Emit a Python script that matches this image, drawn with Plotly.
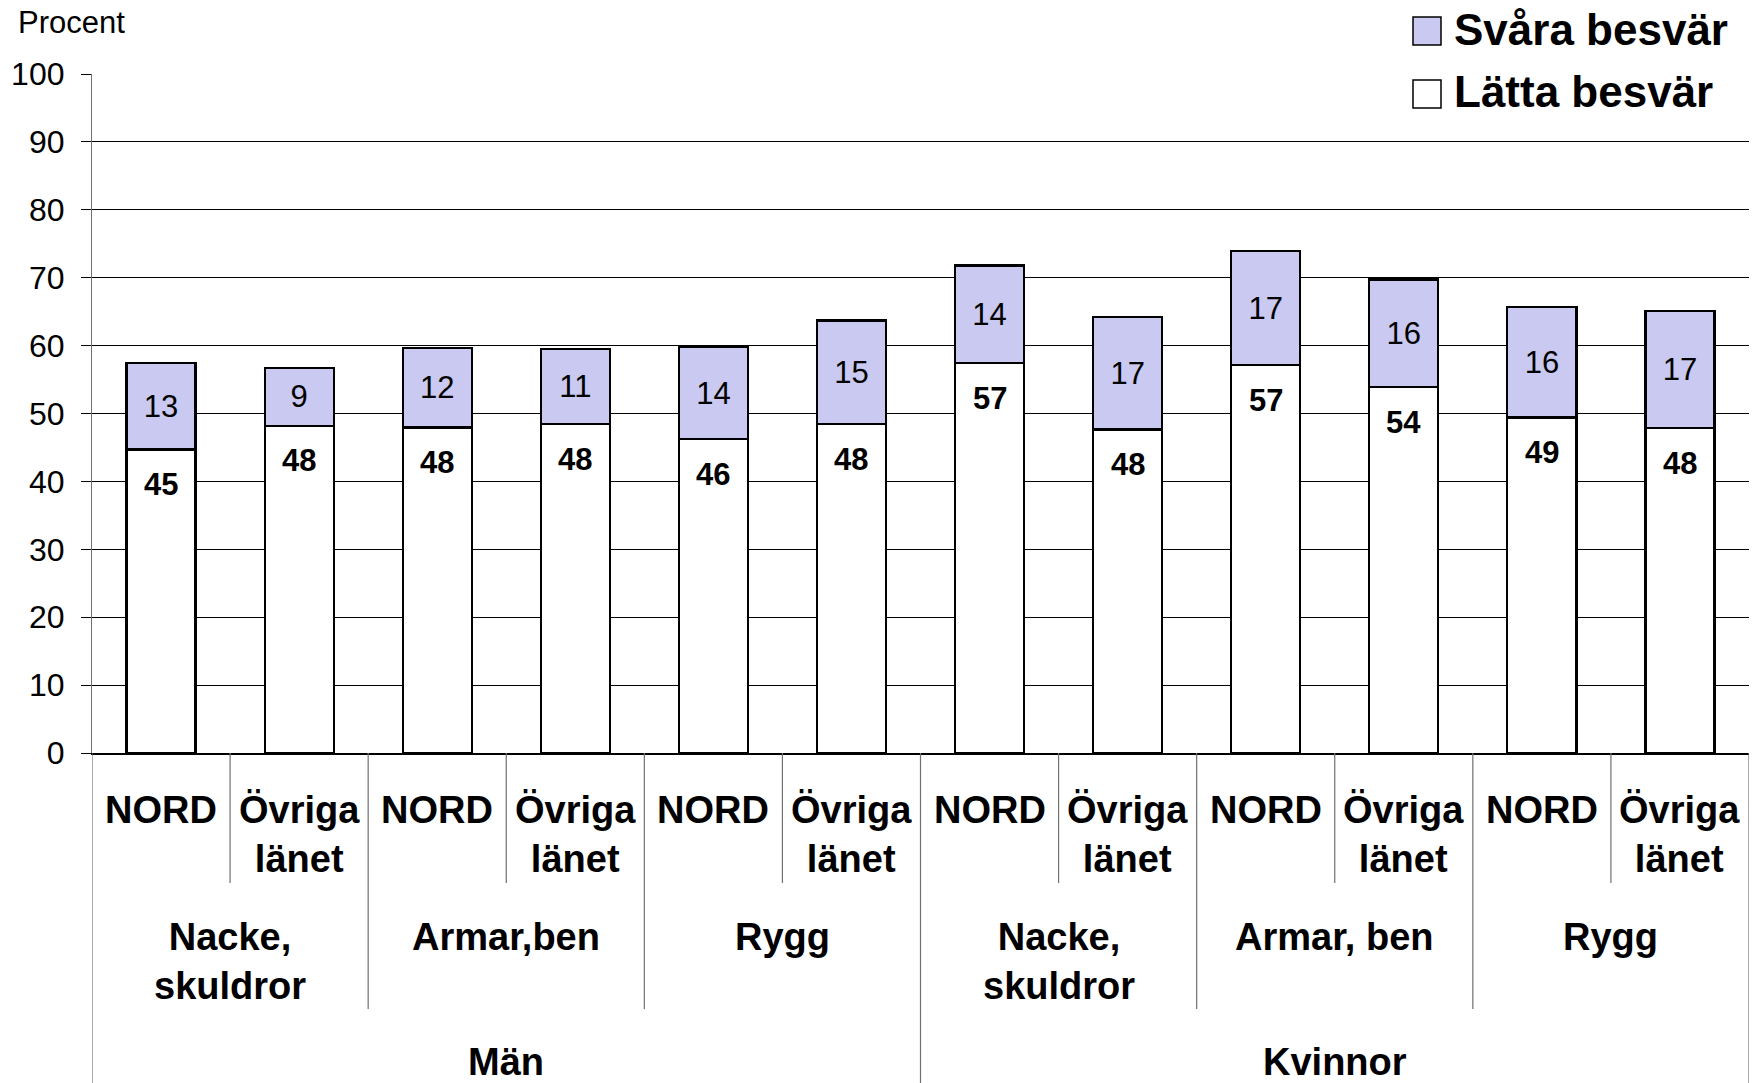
import plotly.graph_objects as go

# ---------------- data ----------------
region_labels = ["NORD", "Övriga<br>länet"] * 6
body_parts = ["Nacke,<br>skuldror", "Armar,ben", "Rygg",
              "Nacke,<br>skuldror", "Armar, ben", "Rygg"]
genders = ["Män", "Kvinnor"]

latta = [44.7, 48.2, 47.95, 48.4, 46.2, 48.4, 57.4, 47.65, 57.1, 53.9, 49.4, 47.85]
svara = [12.7, 8.5, 11.7, 11.1, 13.6, 15.3, 14.4, 16.6, 16.8, 15.85, 16.3, 17.3]
latta_labels = ["45", "48", "48", "48", "46", "48", "57", "48", "57", "54", "49", "48"]
svara_labels = ["13", "9", "12", "11", "14", "15", "14", "17", "17", "16", "16", "17"]

series_names = ["Lätta besvär", "Svåra besvär"]
y_ticks = [0, 10, 20, 30, 40, 50, 60, 70, 80, 90, 100]
y_title = "Procent"

# ---------------- styling ----------------
FONT = "Liberation Sans, Arial, sans-serif"
LAV = "#C9C9F1"
W, H = 1758, 1083
ML, MR, MT, MB = 92, 9, 74, 330
PW, PH = W - ML - MR, H - MT - MB


def px2x(p):
    return (p - ML) / PW


def py(p):
    return (H - MB - p) / PH


x = list(range(len(latta)))

fig = go.Figure()
fig.add_trace(go.Bar(
    x=x, y=latta, name=series_names[0],
    marker=dict(color="white", line=dict(color="black", width=2.2)),
    showlegend=False, hoverinfo="skip",
))
fig.add_trace(go.Bar(
    x=x, y=svara, name=series_names[1],
    marker=dict(color=LAV, line=dict(color="black", width=2.2)),
    text=svara_labels, textposition="inside", insidetextanchor="middle",
    textangle=0, constraintext="none",
    textfont=dict(family=FONT, size=31, color="black"),
    showlegend=False, hoverinfo="skip",
))

annotations = []
# Lätta labels (bold, just below the boundary)
for i, (v, t) in enumerate(zip(latta, latta_labels)):
    annotations.append(dict(x=i, y=v, xref="x", yref="y", text=t, showarrow=False,
                            yanchor="middle", yshift=-35,
                            font=dict(family=FONT, size=31, color="black", weight="bold")))

# level-1 labels
for i, t in enumerate(region_labels):
    annotations.append(dict(x=i, y=py(787), xref="x", yref="paper", text=t, showarrow=False,
                            yanchor="top", xanchor="center",
                            font=dict(family=FONT, size=38, color="black", weight="bold")))
# level-2 labels
for j, t in enumerate(body_parts):
    annotations.append(dict(x=2 * j + 0.5, y=py(914), xref="x", yref="paper", text=t,
                            showarrow=False, yanchor="top", xanchor="center",
                            font=dict(family=FONT, size=38, color="black", weight="bold")))
# level-3 labels
for k, t in enumerate(genders):
    annotations.append(dict(x=6 * k + 2.5, y=py(1062), xref="x", yref="paper", text=t,
                            showarrow=False, yanchor="middle", xanchor="center",
                            font=dict(family=FONT, size=38, color="black", weight="bold")))

# y title
annotations.append(dict(x=px2x(16), y=py(22), xref="paper", yref="paper", text=y_title,
                        showarrow=False, xanchor="left", yanchor="middle",
                        font=dict(family=FONT, size=31, color="black")))

# legend texts
annotations.append(dict(x=px2x(1452), y=py(29), xref="paper", yref="paper",
                        text=series_names[1], showarrow=False, xanchor="left", yanchor="middle",
                        font=dict(family=FONT, size=44, color="black", weight="bold")))
annotations.append(dict(x=px2x(1452), y=py(91), xref="paper", yref="paper",
                        text=series_names[0], showarrow=False, xanchor="left", yanchor="middle",
                        font=dict(family=FONT, size=44, color="black", weight="bold")))

shapes = []
SEP = dict(color="#707070", width=1.2)
n = len(latta)
for b in range(n + 1):
    xb = b - 0.5
    if b in (0, n, n // 2):
        y1 = py(H)
    elif b % 2 == 1:
        y1 = py(883)
    else:
        y1 = py(1009)
    shapes.append(dict(type="line", xref="x", yref="paper", x0=xb, x1=xb, y0=0, y1=y1,
                       line=SEP, layer="above"))

# legend box (white, covers gridline)
shapes.append(dict(type="rect", xref="paper", yref="paper",
                   x0=px2x(1397), x1=px2x(1743), y0=py(122), y1=py(0),
                   fillcolor="white", line=dict(width=0), layer="above"))
shapes.append(dict(type="rect", xref="paper", yref="paper",
                   x0=px2x(1413), x1=px2x(1441), y0=py(45), y1=py(17),
                   fillcolor=LAV, line=dict(color="black", width=1.5), layer="above"))
shapes.append(dict(type="rect", xref="paper", yref="paper",
                   x0=px2x(1413), x1=px2x(1441), y0=py(108), y1=py(80),
                   fillcolor="white", line=dict(color="black", width=1.5), layer="above"))

fig.update_layout(
    width=W, height=H,
    margin=dict(l=ML, r=MR, t=MT, b=MB, pad=0),
    barmode="stack", bargap=0.5,
    plot_bgcolor="white", paper_bgcolor="white",
    font=dict(family=FONT, color="black"),
    annotations=annotations, shapes=shapes,
    showlegend=False,
)
fig.update_xaxes(range=[-0.5, n - 0.5], showticklabels=False, showgrid=False,
                 zeroline=False, showline=True, linecolor="black", linewidth=1.5,
                 ticks="", fixedrange=True)
fig.update_yaxes(range=[0, 100], tickvals=y_ticks, showgrid=True, gridcolor="black",
                 gridwidth=1, zeroline=False, showline=True, linecolor="#707070",
                 linewidth=1.2, ticks="outside", ticklen=10, tickcolor="black",
                 tickwidth=1, ticklabelstandoff=10,
                 tickfont=dict(family=FONT, size=32, color="black"), fixedrange=True)

fig.write_html("out.html", config={"displayModeBar": False},
               post_script="document.body.style.margin='0';document.body.style.overflow='hidden';")
